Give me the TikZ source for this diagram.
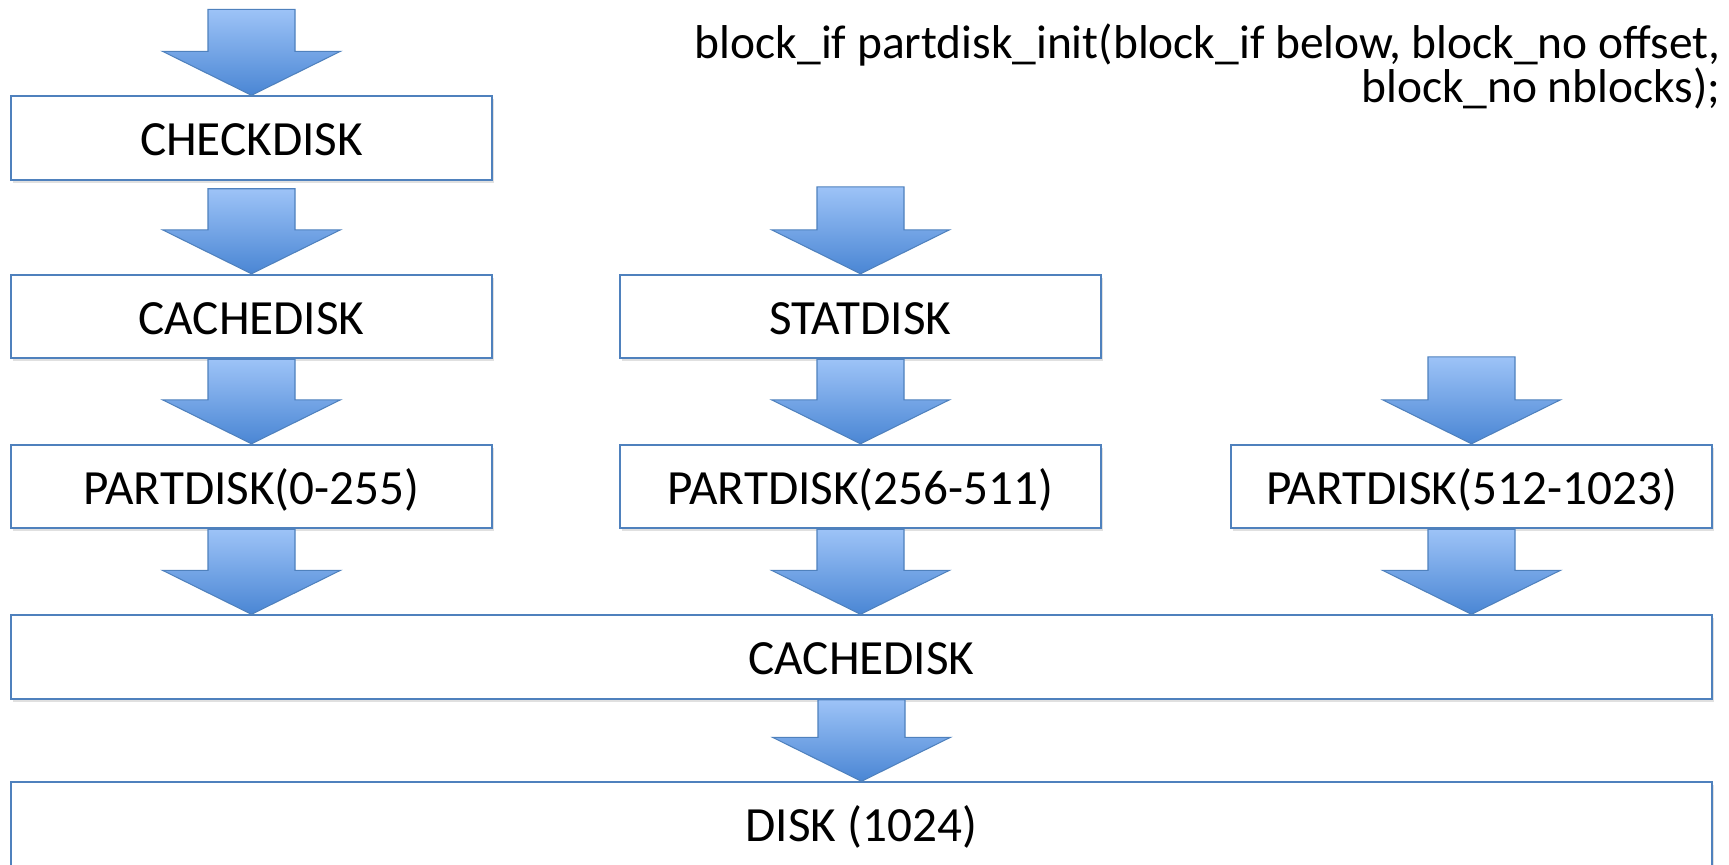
\documentclass[tikz,border=0pt]{standalone}
\usepackage{fontspec}
\setmainfont{Carlito}
\usetikzlibrary{calc,shadows}

\definecolor{boxblue}{HTML}{4F81BD}
\definecolor{arrowtop}{HTML}{9DC3F7}
\definecolor{arrowtip}{HTML}{4A86D4}

% block arrow from (tail) to (tip)
\newcommand{\blockarrow}[2]{%
  \path[block arrow] ($(#1)+(-0.87,0)$) -- ($(#1)+(0.87,0)$)
    -- ($(#2)+(0.87,0.88)$) -- ($(#2)+(1.78,0.88)$) -- (#2)
    -- ($(#2)+(-1.78,0.88)$) -- ($(#2)+(-0.87,0.88)$) -- cycle;}

\begin{document}
\begin{tikzpicture}[disk box/.style={draw=boxblue, line width=1.1pt, fill=white,
        minimum width=9.62cm, minimum height=1.67cm, inner sep=0pt,
        font=\fontsize{28}{30}\selectfont, text height=20pt, text depth=0pt,
        drop shadow={shadow xshift=0.04cm, shadow yshift=-0.06cm, opacity=0.12, fill=black}},
    wide box/.style={disk box, minimum width=34.02cm},
    block arrow/.style={draw=boxblue, line width=0.6pt, top color=arrowtop, bottom color=arrowtip}]
    \useasboundingbox (0,0) rectangle (34.58,-17.28);

    % layers
    \node[disk box] (chk) at (5.03,-2.76) {CHECKDISK};
    \node[disk box] (cache1) at (5.03,-6.33) {CACHEDISK};
    \node[disk box] (stat) at (17.21,-6.33) {STATDISK};
    \node[disk box] (part1) at (5.03,-9.73) {PARTDISK(0-255)};
    \node[disk box] (part2) at (17.21,-9.73) {PARTDISK(256-511)};
    \node[disk box] (part3) at (29.43,-9.73) {PARTDISK(512-1023)};
    \node[wide box] (cache2) at (17.23,-13.14) {CACHEDISK};
    \node[wide box] (disk) at (17.23,-16.48) {DISK (1024)};

    \node[anchor=north east, align=right, inner sep=0pt, font=\fontsize{27}{21}\selectfont]
        (proto) at (34.42,-0.46)
        {block\_if partdisk\_init(block\_if below, block\_no offset,\\ block\_no nblocks);};

    % free arrow ends
    \coordinate (in1) at ($(chk.north)+(0,1.72)$);
    \coordinate (in2) at ($(stat.north)+(0,1.74)$);
    \coordinate (in3) at ($(part3.north)+(0,1.74)$);
    \coordinate (out1) at (part1.south |- cache2.north);
    \coordinate (out2) at (part2.south |- cache2.north);
    \coordinate (out3) at (part3.south |- cache2.north);

    \blockarrow{in1}{chk.north}
    \blockarrow{$(chk.south)+(0,-0.16)$}{cache1.north}
    \blockarrow{cache1.south}{part1.north}
    \blockarrow{in2}{stat.north}
    \blockarrow{stat.south}{part2.north}
    \blockarrow{in3}{part3.north}
    \blockarrow{part1.south}{out1}
    \blockarrow{part2.south}{out2}
    \blockarrow{part3.south}{out3}
    \blockarrow{cache2.south}{disk.north}

\end{tikzpicture}
\end{document}
